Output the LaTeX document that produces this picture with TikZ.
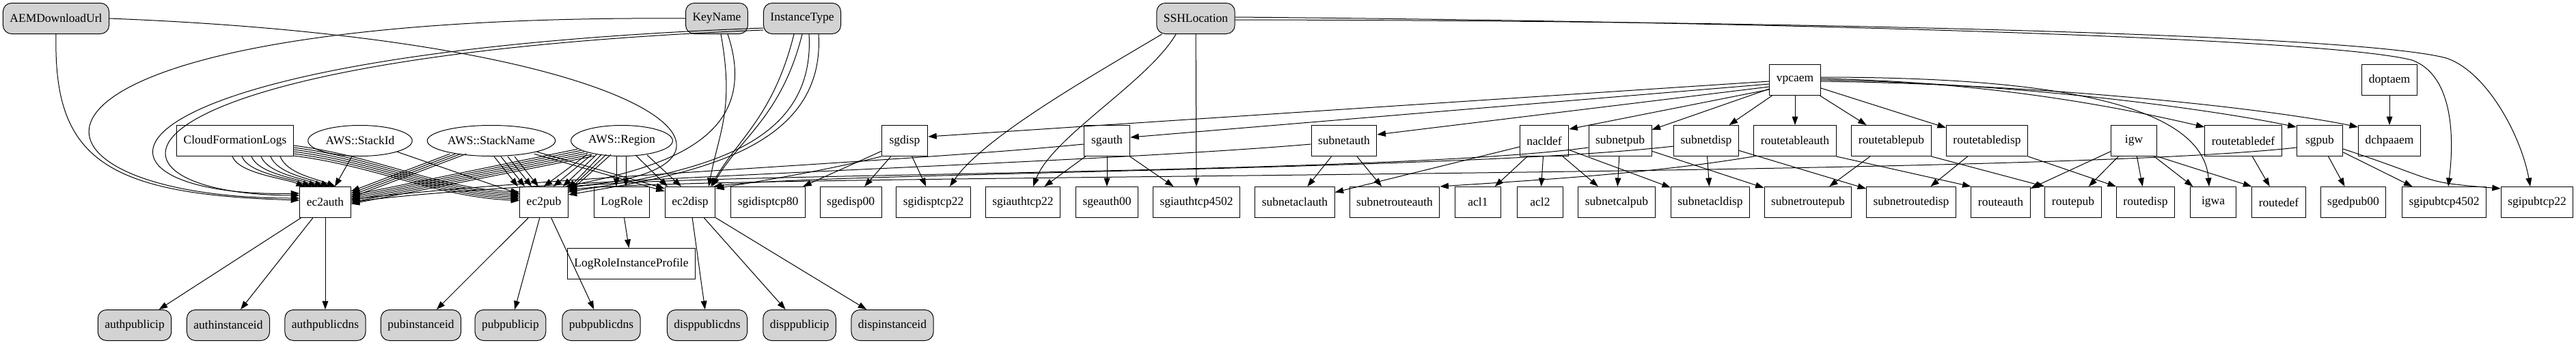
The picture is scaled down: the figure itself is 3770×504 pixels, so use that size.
\documentclass[tikz,border=0pt]{standalone}
\usepackage{fontspec}
\setmainfont{Liberation Serif}
\usepackage{xcolor}
\usepackage{tikz}
\usetikzlibrary{arrows.meta,shapes.geometric}
\definecolor{paramgray}{HTML}{D3D3D3}

\begin{document}
\begin{tikzpicture}[x=0.8pt,y=-0.8pt,line width=0.8pt,font=\fontsize{14}{16}\selectfont,>={Triangle[length=10pt,width=7pt]},
  param/.style={draw,rounded corners=10pt,fill=paramgray,minimum height=36pt,minimum width=54pt,inner xsep=8pt},
  res/.style={draw,minimum height=36pt,minimum width=54pt,inner xsep=8pt},
  pseudo/.style={draw,ellipse,minimum height=36pt,inner sep=0pt},
  dep/.style={->}]
\useasboundingbox (0,0) rectangle (3770,504);

\node[param] (aemurl) at (82,27) {AEMDownloadUrl};
\node[param] (keyname) at (1049,27) {KeyName};
\node[param] (insttype) at (1174,27) {InstanceType};
\node[param] (sshloc) at (1750,27) {SSHLocation};

\node[res] (vpcaem) at (2627,117) {vpcaem};
\node[res] (doptaem) at (3497,117) {doptaem};

\node[res] (cflogs) at (344,206) {CloudFormationLogs};
\node[pseudo,minimum width=122pt] (stackid) at (527,206) {AWS::StackId};
\node[pseudo,minimum width=150pt] (stackname) at (719,206) {AWS::StackName};
\node[pseudo,minimum width=119pt] (region) at (910,206) {AWS::Region};
\node[res] (sgdisp) at (1324,206) {sgdisp};
\node[res] (sgauth) at (1620,206) {sgauth};
\node[res] (subnetauth) at (1967,206) {subnetauth};
\node[res] (nacldef) at (2260,206) {nacldef};
\node[res] (subnetpub) at (2371,206) {subnetpub};
\node[res] (subnetdisp) at (2497,206) {subnetdisp};
\node[res] (routetableauth) at (2627,206) {routetableauth};
\node[res] (routetablepub) at (2768,206) {routetablepub};
\node[res] (routetabledisp) at (2908,206) {routetabledisp};
\node[res] (igw) at (3123,206) {igw};
\node[res] (routetabledef) at (3283,206) {routetabledef};
\node[res] (sgpub) at (3395,206) {sgpub};
\node[res] (dchpaaem) at (3497,206) {dchpaaem};

\node[res] (ec2auth) at (476,296) {ec2auth};
\node[res] (ec2pub) at (796,296) {ec2pub};
\node[res] (logrole) at (910,296) {LogRole};
\node[res] (ec2disp) at (1010,296) {ec2disp};
\node[res] (sgidisptcp80) at (1124,296) {sgidisptcp80};
\node[res] (sgedisp00) at (1245,296) {sgedisp00};
\node[res] (sgidisptcp22) at (1366,296) {sgidisptcp22};
\node[res] (sgiauthtcp22) at (1497,296) {sgiauthtcp22};
\node[res] (sgeauth00) at (1620,296) {sgeauth00};
\node[res] (sgiauthtcp4502) at (1751,296) {sgiauthtcp4502};
\node[res] (subnetaclauth) at (1895,296) {subnetaclauth};
\node[res] (subnetrouteauth) at (2041,296) {subnetrouteauth};
\node[res] (acl1) at (2163,296) {acl1};
\node[res] (acl2) at (2254,296) {acl2};
\node[res] (subnetcalpub) at (2366,296) {subnetcalpub};
\node[res] (subnetacldisp) at (2503,296) {subnetacldisp};
\node[res] (subnetroutepub) at (2646,296) {subnetroutepub};
\node[res] (subnetroutedisp) at (2797,296) {subnetroutedisp};
\node[res] (routeauth) at (2928,296) {routeauth};
\node[res] (routepub) at (3034,296) {routepub};
\node[res] (routedisp) at (3140,296) {routedisp};
\node[res] (igwa) at (3239,296) {igwa};
\node[res] (routedef) at (3335,296) {routedef};
\node[res] (sgedpub00) at (3444,296) {sgedpub00};
\node[res] (sgipubtcp4502) at (3577,296) {sgipubtcp4502};
\node[res] (sgipubtcp22) at (3713,296) {sgipubtcp22};

\node[res] (logroleprofile) at (924,386) {LogRoleInstanceProfile};

\node[param] (authpublicip) at (197,476) {authpublicip};
\node[param] (authinstanceid) at (334,476) {authinstanceid};
\node[param] (authpublicdns) at (476,476) {authpublicdns};
\node[param] (pubinstanceid) at (616,476) {pubinstanceid};
\node[param] (pubpublicip) at (747,476) {pubpublicip};
\node[param] (pubpublicdns) at (880,476) {pubpublicdns};
\node[param] (disppublicdns) at (1035,476) {disppublicdns};
\node[param] (disppublicip) at (1170,476) {disppublicip};
\node[param] (dispinstanceid) at (1306,476) {dispinstanceid};

\draw[dep] (aemurl.south) .. controls (78,230) and (150,285) .. ([shift={(0,-3)}]ec2auth.west);
\draw[dep] (aemurl.east) .. controls (1000,60) and (1150,250) .. (ec2pub.north east);
\draw[dep] (keyname.west) .. controls (-60,20) and (-20,290) .. ([shift={(0,-6)}]ec2auth.west);
\foreach \i in {0,1}
  \draw[dep] ([shift={(0,14+3*\i)}]insttype.west) .. controls (80+30*\i,80+5*\i) and (90+25*\i,290-5*\i) .. ([shift={(0,-13+3*\i)}]ec2auth.west);
\draw[dep] ([shift={(6,0)}]keyname.south) .. controls +(20,110) and +(15,-80) .. ([shift={(-10,0)}]ec2disp.north east);
\draw[dep] ([shift={(16,0)}]keyname.south) .. controls +(50,150) and +(150,-30) .. ([shift={(-4,0)}]ec2pub.north east);
\foreach \i in {0,1}
  \draw[dep] ([shift={(-12+12*\i,0)}]insttype.south) .. controls +(-30,120) and +(40,-70) .. ([shift={(-7+2*\i,0)}]ec2disp.north east);
\foreach \i in {0,1}
  \draw[dep] ([shift={(10+14*\i,0)}]insttype.south) .. controls +(10,170) and +(180,-30) .. ([shift={(0,8+4*\i)}]ec2pub.north east);

\foreach \i in {0,...,5}
  \draw[dep] ([shift={(-4+14*\i,0)}]cflogs.south) .. controls +(10,25) and +(-30,-12) .. ([shift={(-30+9*\i,0)}]ec2auth.north);
\foreach \i in {0,...,5}
  \draw[dep] ([shift={(0,7+3*\i)}]cflogs.east) .. controls +(120,15) and +(-120,-5) .. ([shift={(0,-15+2.5*\i)}]ec2pub.west);
\draw[dep] ([shift={(-12,0)}]stackid.south) -- ([shift={(14,0)}]ec2auth.north);
\draw[dep] (stackid.south east) -- ([shift={(0,-12)}]ec2pub.west);
\foreach \i in {0,...,3}
  \draw[dep] ([shift={(6+8*\i,3)}]stackname.south west) -- ([shift={(0,-16+3*\i)}]ec2auth.east);
\foreach \i in {0,...,3}
  \draw[dep] ([shift={(4+10*\i,0)}]stackname.south) -- ([shift={(-38+10*\i,0)}]ec2pub.north);
\foreach \i in {0,1}
  \draw[dep] ([shift={(-4*\i,3*\i)}]stackname.south east) -- ([shift={(0,3+4*\i)}]ec2disp.north west);
\foreach \i in {0,...,5}
  \draw[dep] ([shift={(-12+5*\i,-4+2*\i)}]region.south west) -- ([shift={(0,-10+2.5*\i)}]ec2auth.east);
\foreach \i in {0,...,2}
  \draw[dep] ([shift={(2+7*\i,4)}]region.south west) -- ([shift={(-36+14*\i,0)}]ec2pub.north east);
\foreach \i in {3,...,5}
  \draw[dep] ([shift={(2+7*\i,4)}]region.south west) -- ([shift={(0,3*\i-6)}]ec2pub.north east);
\foreach \i in {0,1}
  \draw[dep] ([shift={(-8+14*\i,0)}]region.south) -- ([shift={(-8+14*\i,0)}]logrole.north);
\foreach \i in {0,1}
  \draw[dep] ([shift={(20+17*\i,-2)}]region.south) -- ([shift={(-33+20*\i,0)}]ec2disp.north);

\draw[dep] (sgdisp.south west) .. controls +(-80,20) and +(90,-15) .. ([shift={(0,3)}]ec2disp.north east);
\draw[dep] ([shift={(0,8)}]subnetdisp.west) .. controls +(-300,35) and +(150,-20) .. ([shift={(-3,0)}]ec2disp.north east);
\draw[dep] ([shift={(0,10)}]subnetpub.west) .. controls +(-300,40) and +(150,-22) .. ([shift={(0,2)}]ec2pub.north east);
\draw[dep] ([shift={(0,10)}]sgpub.west) .. controls +(-400,45) and +(200,-24) .. ([shift={(0,5)}]ec2pub.north east);
\draw[dep] ([shift={(0,5)}]sgauth.west) .. controls +(-250,25) and +(250,-30) .. ([shift={(0,-4)}]ec2auth.east);
\draw[dep] ([shift={(0,5)}]subnetauth.west) .. controls +(-350,30) and +(250,-34) .. (ec2auth.east);

\draw[dep] ([shift={(0,2)}]vpcaem.west) -- ([shift={(0,-6)}]sgdisp.east);
\draw[dep] ([shift={(0,6)}]vpcaem.west) -- ([shift={(0,-5)}]sgauth.east);
\draw[dep] ([shift={(0,10)}]vpcaem.west) -- ([shift={(0,-9)}]subnetauth.east);
\draw[dep] ([shift={(0,14)}]vpcaem.west) -- ([shift={(0,6)}]nacldef.north east);
\draw[dep] (vpcaem) -- (subnetpub);
\draw[dep] (vpcaem) -- (subnetdisp);
\draw[dep] (vpcaem) -- (routetableauth);
\draw[dep] (vpcaem) -- (routetablepub);
\draw[dep] (vpcaem) -- (routetabledisp);
\draw[dep] ([shift={(0,-4)}]vpcaem.east) .. controls +(300,0) and +(-10,-130) .. ([shift={(-6,0)}]igwa.north);
\draw[dep] ([shift={(0,-2)}]vpcaem.east) .. controls +(250,5) and +(-120,-28) .. ([shift={(0,3)}]routetabledef.north west);
\draw[dep] (vpcaem.east) .. controls +(300,5) and +(-120,-25) .. ([shift={(0,3)}]sgpub.north west);
\draw[dep] ([shift={(0,2)}]vpcaem.east) .. controls +(350,5) and +(-120,-25) .. ([shift={(0,3)}]dchpaaem.north west);
\draw[dep] (doptaem) -- (dchpaaem);

\draw[dep] ([shift={(8,0)}]sshloc.south west) .. controls (1600,110) and (1440,200) .. ([shift={(24,0)}]sgidisptcp22.north);
\draw[dep] ([shift={(-29,0)}]sshloc.south) .. controls (1680,120) and (1540,200) .. ([shift={(15,0)}]sgiauthtcp22.north);
\draw[dep] (sshloc) -- (sgiauthtcp4502);
\draw[dep] ([shift={(0,-2)}]sshloc.east) .. controls (2600,32) and (3400,55) .. (3530,88) .. controls (3590,110) and (3592,200) .. ([shift={(6,0)}]sgipubtcp4502.north);
\draw[dep] ([shift={(0,2)}]sshloc.east) .. controls (2600,30) and (3450,50) .. (3580,85) .. controls (3640,105) and (3690,200) .. ([shift={(-10,0)}]sgipubtcp22.north);

\draw[dep] (sgdisp) -- (sgidisptcp80);
\draw[dep] (sgdisp) -- (sgedisp00);
\draw[dep] (sgdisp) -- (sgidisptcp22);
\draw[dep] (sgauth) -- (sgiauthtcp22);
\draw[dep] (sgauth) -- (sgeauth00);
\draw[dep] (sgauth) -- (sgiauthtcp4502);
\draw[dep] (subnetauth) -- (subnetaclauth);
\draw[dep] (subnetauth) -- (subnetrouteauth);
\draw[dep] (nacldef) -- (subnetaclauth);
\draw[dep] (nacldef) -- (acl1);
\draw[dep] (nacldef) -- (acl2);
\draw[dep] (nacldef) -- (subnetcalpub);
\draw[dep] (nacldef) -- (subnetacldisp);
\draw[dep] (subnetpub) -- (subnetcalpub);
\draw[dep] (subnetpub) -- (subnetroutepub);
\draw[dep] (subnetdisp) -- (subnetacldisp);
\draw[dep] (subnetdisp) -- (subnetroutedisp);
\draw[dep] (routetableauth.south west) .. controls +(-150,25) and +(150,-10) .. (subnetrouteauth.north east);
\draw[dep] (routetableauth.south east) -- (routeauth.north west);
\draw[dep] (routetablepub) -- (subnetroutepub);
\draw[dep] (routetablepub.south east) -- (routepub.north west);
\draw[dep] (routetabledisp) -- (subnetroutedisp);
\draw[dep] (routetabledisp.south east) -- (routedisp.north west);
\draw[dep] (igw) -- (routeauth);
\draw[dep] (igw) -- (routepub);
\draw[dep] (igw) -- (routedisp);
\draw[dep] (igw) -- (igwa);
\draw[dep] (igw.south east) -- (routedef.north west);
\draw[dep] (routetabledef) -- (routedef);
\draw[dep] (sgpub) -- (sgedpub00);
\draw[dep] (sgpub) -- (sgipubtcp4502);
\draw[dep] ([shift={(0,12)}]sgpub.east) .. controls +(150,50) and +(-120,-10) .. ([shift={(0,3)}]sgipubtcp22.north west);

\draw[dep] (logrole) -- (logroleprofile);
\draw[dep] (ec2auth) -- (authpublicip);
\draw[dep] (ec2auth) -- (authinstanceid);
\draw[dep] (ec2auth) -- (authpublicdns);
\draw[dep] (ec2pub) -- (pubinstanceid);
\draw[dep] (ec2pub) -- (pubpublicip);
\draw[dep] (ec2pub) -- (pubpublicdns);
\draw[dep] (ec2disp) -- (disppublicdns);
\draw[dep] (ec2disp) -- (disppublicip);
\draw[dep] (ec2disp) -- (dispinstanceid);
\end{tikzpicture}
\end{document}
